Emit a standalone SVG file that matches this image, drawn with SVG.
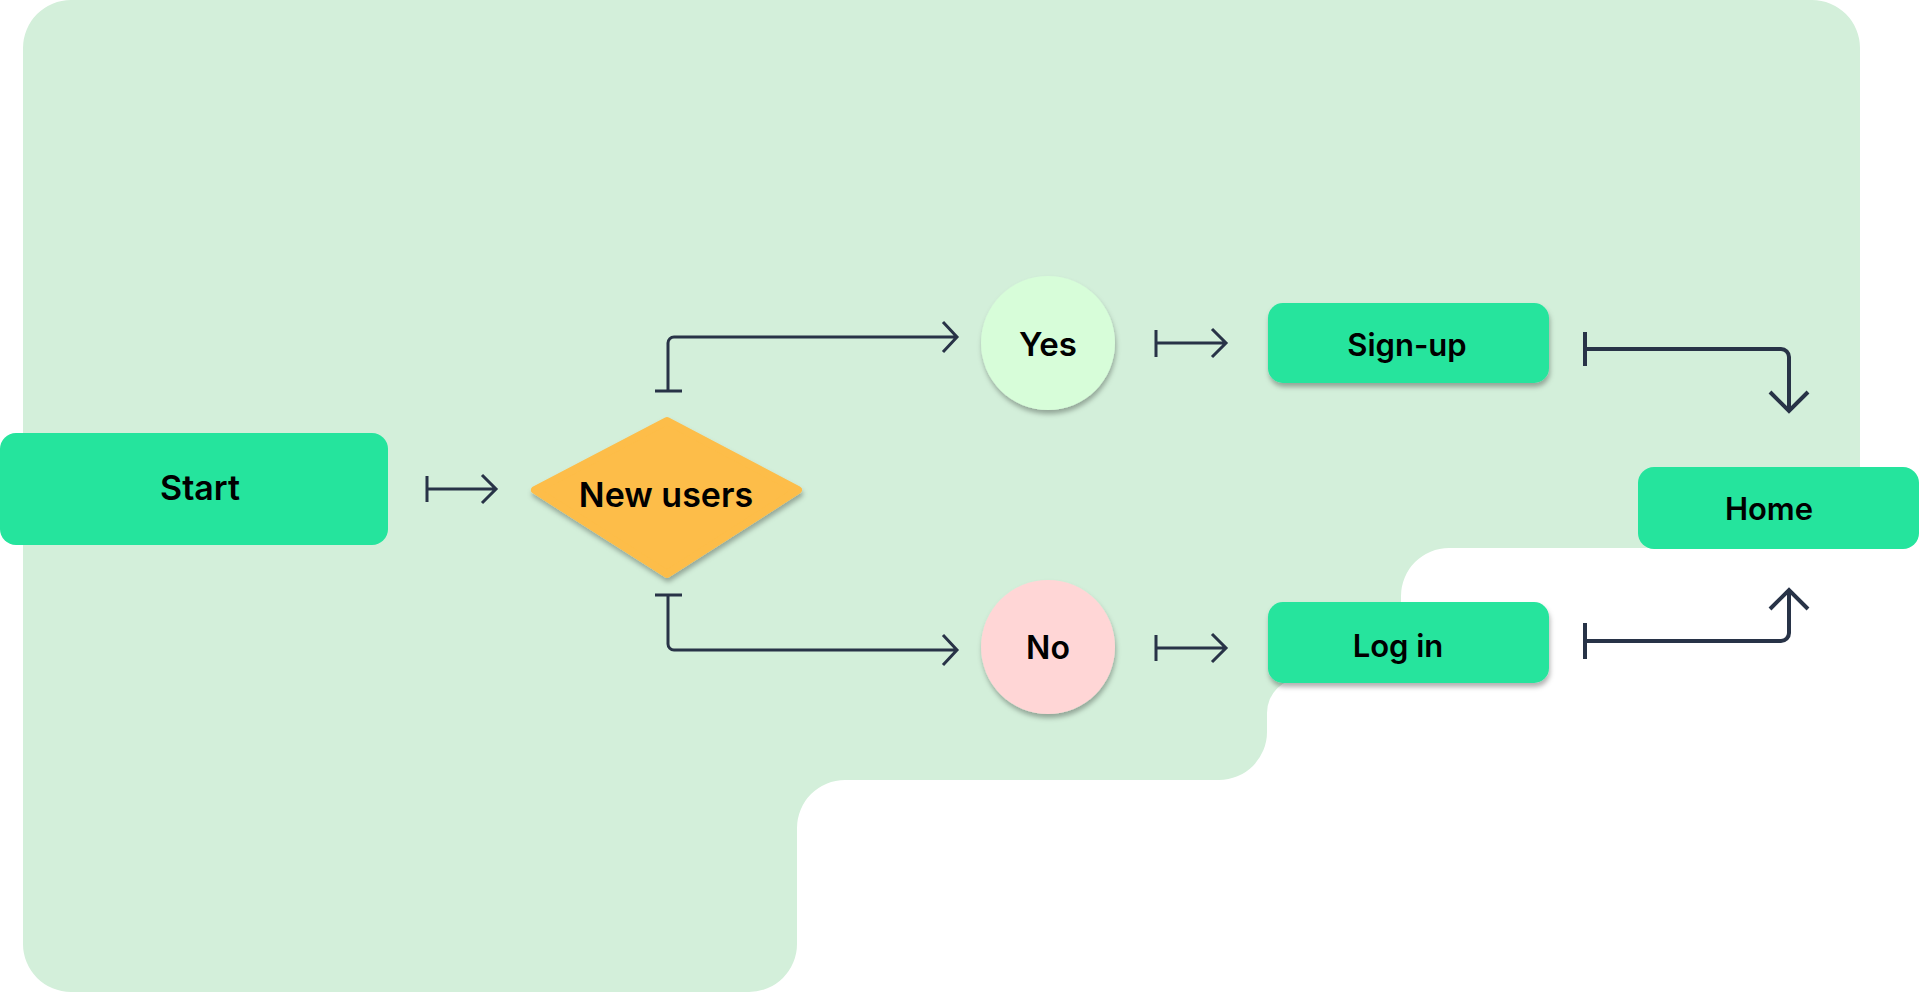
<svg xmlns="http://www.w3.org/2000/svg" width="1920" height="993" viewBox="0 0 1920 993">
  <style>
    .lbl { font-family: Inter, "Noto Sans", "Liberation Sans", sans-serif; font-weight: 600; fill: #000000; text-anchor: middle; }
    .box { fill: #25E49D; }
    .ln { fill: none; stroke: #283347; stroke-width: 3; }
    .lnb { fill: none; stroke: #283347; stroke-width: 4; }
  </style>
  <defs>
    <filter id="sh" x="-20%" y="-20%" width="140%" height="150%">
      <feDropShadow dx="1" dy="4" stdDeviation="2.5" flood-color="#000000" flood-opacity="0.3"/>
    </filter>
  </defs>
  <rect width="1920" height="993" fill="#FFFFFF"/>
  <path id="bg" fill="#D3EFDA" d="M71,0 H1812 A48,48 0 0 1 1860,48 V548 H1449 A48,48 0 0 0 1401,596 V630 A48,48 0 0 1 1353,678 H1302 A35,35 0 0 0 1267,713 V732 A48,48 0 0 1 1219,780 H845 A48,48 0 0 0 797,828 V944 A48,48 0 0 1 749,992 H71 A48,48 0 0 1 23,944 V48 A48,48 0 0 1 71,0 Z"/>
  <g id="connectors">
    <path class="ln" d="M427,476 V502 M427,489 H496 M482,475 L496,489 L482,503"/>
    <path class="ln" d="M655,391 H682 M668,391 V343 A6,6 0 0 1 674,337 H957 M943,322 L957,337 L943,352"/>
    <path class="ln" d="M655,595 H682 M668,595 V644 A6,6 0 0 0 674,650 H957 M943,635 L957,650 L943,665"/>
    <path class="ln" d="M1156,330 V357 M1156,343 H1226 M1212,329 L1226,343 L1212,357"/>
    <path class="ln" d="M1156,635 V661 M1156,648 H1226 M1212,634 L1226,648 L1212,662"/>
    <path class="lnb" d="M1585,332 V366 M1585,349 H1781 A8,8 0 0 1 1789,357 V410 M1770,392 L1789,411 L1808,392"/>
    <path class="lnb" d="M1585,623 V659 M1585,641 H1781 A8,8 0 0 0 1789,633 V591 M1770,609 L1789,590 L1808,609"/>
  </g>
  <g id="start">
    <rect class="box" x="0" y="433" width="388" height="112" rx="16"/>
    <text class="lbl" x="200" y="500" style="font-size:34px">Start</text>
  </g>
  <g id="new-users">
    <polygon points="667,421 798,490 667,574 535,490" fill="#FDBD48" stroke="#FDBD48" stroke-width="8" stroke-linejoin="round" filter="url(#sh)"/>
    <text class="lbl" x="666" y="507" style="font-size:34px">New users</text>
  </g>
  <g id="yes">
    <circle cx="1048" cy="343" r="67" fill="#D7FDD9" filter="url(#sh)"/>
    <text class="lbl" x="1048" y="356" style="font-size:33px">Yes</text>
  </g>
  <g id="no">
    <circle cx="1048" cy="647" r="67" fill="#FFD6D6" filter="url(#sh)"/>
    <text class="lbl" x="1048" y="659" style="font-size:32px">No</text>
  </g>
  <g id="sign-up">
    <rect class="box" x="1268" y="303" width="281" height="80" rx="15" filter="url(#sh)"/>
    <text class="lbl" x="1407" y="356" style="font-size:31px">Sign-up</text>
  </g>
  <g id="log-in">
    <rect class="box" x="1268" y="602" width="281" height="81" rx="15" filter="url(#sh)"/>
    <text class="lbl" x="1398" y="657" style="font-size:31px">Log in</text>
  </g>
  <g id="home">
    <rect class="box" x="1638" y="467" width="281" height="82" rx="16"/>
    <text class="lbl" x="1769" y="520" style="font-size:31px">Home</text>
  </g>
</svg>
